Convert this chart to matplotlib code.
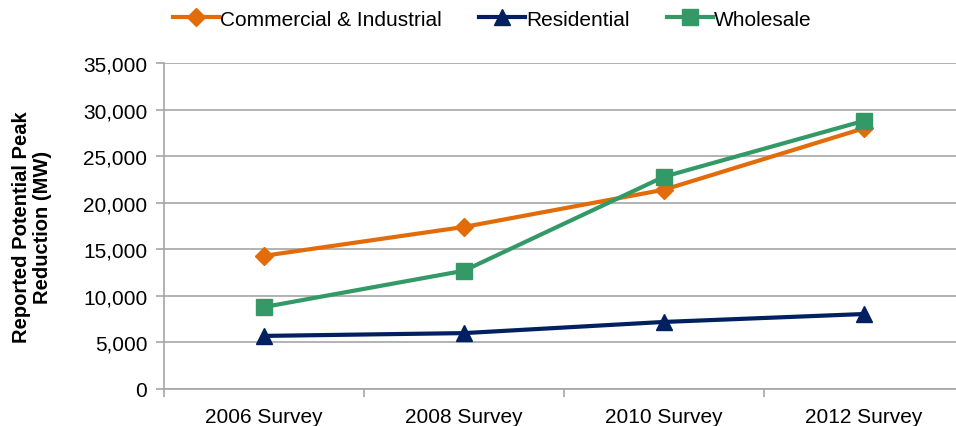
import numpy as np
import matplotlib.pyplot as plt
from matplotlib.ticker import FuncFormatter, FixedLocator

plt.rcParams['font.family'] = ['Liberation Sans', 'DejaVu Sans']

surveys = ['2006 Survey', '2008 Survey', '2010 Survey', '2012 Survey']
commercial = [14300, 17400, 21400, 28000]
residential = [5700, 6000, 7200, 8050]
wholesale = [8800, 12700, 22800, 28800]

fig = plt.figure(figsize=(9.56, 4.27), dpi=100)
ax = fig.add_axes([0.1715, 0.0867, 0.837, 0.7633])

x = np.arange(len(surveys))
ax.plot(x, commercial, color='#E36C0A', lw=3, marker='D', ms=9,
        label='Commercial & Industrial', zorder=3)
ax.plot(x, residential, color='#002060', lw=3, marker='^', ms=11,
        label='Residential', zorder=3)
ax.plot(x, wholesale, color='#339966', lw=3, marker='s', ms=11,
        label='Wholesale', zorder=4)

ax.set_ylim(0, 35000)
ax.set_xlim(-0.5, 3.5)
ax.set_yticks(np.arange(0, 35001, 5000))
ax.yaxis.set_major_formatter(FuncFormatter(lambda v, p: f'{int(v):,}'))
ax.grid(axis='y', color='#A6A6A6', lw=1.2)
ax.set_axisbelow(True)

# category labels centred, tick marks between categories
ax.set_xticks(x)
ax.set_xticklabels(surveys)
ax.xaxis.set_minor_locator(FixedLocator(np.arange(-0.5, 3.6, 1)))
ax.tick_params(axis='x', which='major', length=0, pad=13, labelsize=15)
ax.tick_params(axis='x', which='minor', length=6, color='#A6A6A6', width=1.2)
ax.tick_params(axis='y', length=6, color='#A6A6A6', width=1.2, labelsize=15, pad=6)

for s in ['top', 'right']:
    ax.spines[s].set_visible(False)
for s in ['left', 'bottom']:
    ax.spines[s].set_color('#A6A6A6')
    ax.spines[s].set_linewidth(1.2)

ax.set_ylabel('Reported Potential Peak\nReduction (MW)', fontsize=14.5,
              fontweight='bold', labelpad=22, linespacing=1.15)

fig.legend(loc='center', bbox_to_anchor=(0.515, 0.953), ncol=3, frameon=False,
           fontsize=15, handlelength=2.2, columnspacing=1.8, handletextpad=0.05)

fig.savefig('out.png', dpi=100)
